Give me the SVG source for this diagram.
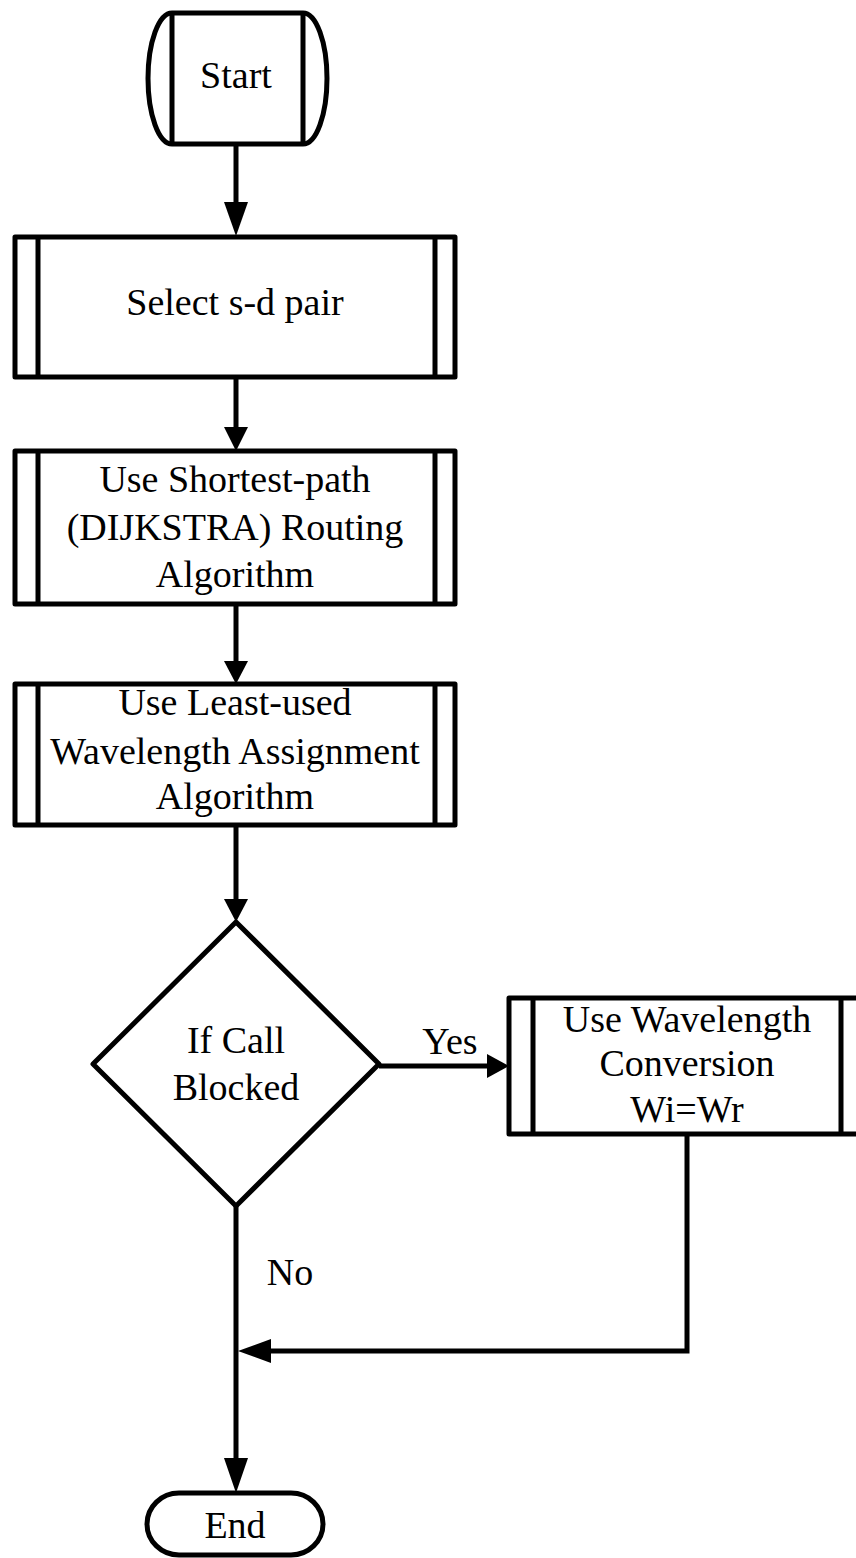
<svg xmlns="http://www.w3.org/2000/svg" width="856" height="1558" viewBox="0 0 856 1558">
<style>
.s{fill:#fff;stroke:#000;stroke-width:5;stroke-linejoin:round}
.l{fill:none;stroke:#000;stroke-width:5}
.c{fill:none;stroke:#000;stroke-width:5}
.h{fill:#000;stroke:none}
text{font-family:"Liberation Serif","Times New Roman",serif;font-size:38px;fill:#000;text-anchor:middle}
</style>
<rect width="856" height="1558" fill="#fff"/>
<g id="connectors">
<path class="c" d="M236,144 V203"/><polygon class="h" points="224,202 248,202 236,236"/>
<path class="c" d="M236,377 V428"/><polygon class="h" points="224,427 248,427 236,451"/>
<path class="c" d="M236,604 V662"/><polygon class="h" points="224,661 248,661 236,684"/>
<path class="c" d="M236,825 V900"/><polygon class="h" points="224,899 248,899 236,922"/>
<path class="c" d="M379,1066 H488"/><polygon class="h" points="487,1054 487,1078 509,1066"/>
<path class="c" d="M236,1206 V1459"/><polygon class="h" points="224,1458 248,1458 236,1493"/>
<path class="c" d="M687,1134 V1351 H270" stroke-linejoin="miter"/><polygon class="h" points="271,1339 271,1363 238,1351"/>
<text x="450" y="1054">Yes</text>
<text x="290" y="1285">No</text>
</g>
<g id="start">
<path class="s" d="M172,13 H303 A24,65.5 0 0 1 303,144 H172 A24,65.5 0 0 1 172,13 Z"/>
<path class="l" d="M172,13 V144 M303,13 V144"/>
<text x="236" y="88">Start</text>
</g>
<g id="select">
<rect class="s" x="15" y="237" width="440" height="140"/>
<path class="l" d="M38,237 V377 M435,237 V377"/>
<text x="235" y="315">Select s-d pair</text>
</g>
<g id="routing">
<rect class="s" x="15" y="451" width="440" height="153"/>
<path class="l" d="M38,451 V604 M435,451 V604"/>
<text x="235" y="492">Use Shortest-path</text>
<text x="235" y="540">(DIJKSTRA) Routing</text>
<text x="235" y="587">Algorithm</text>
</g>
<g id="assignment">
<rect class="s" x="15" y="684" width="440" height="141"/>
<path class="l" d="M38,684 V825 M435,684 V825"/>
<text x="235" y="715">Use Least-used</text>
<text x="235" y="764">Wavelength Assignment</text>
<text x="235" y="809">Algorithm</text>
</g>
<g id="decision">
<polygon class="s" points="236,922 379,1064 236,1206 93,1064"/>
<text x="236" y="1053">If Call</text>
<text x="236" y="1100">Blocked</text>
</g>
<g id="conversion">
<rect class="s" x="509" y="998" width="353" height="136"/>
<path class="l" d="M533,998 V1134 M841,998 V1134"/>
<text x="687" y="1032">Use Wavelength</text>
<text x="687" y="1076">Conversion</text>
<text x="687" y="1122">Wi=Wr</text>
</g>
<g id="end">
<rect class="s" x="147" y="1493" width="176" height="62" rx="32" ry="31"/>
<text x="235" y="1538">End</text>
</g>
</svg>
